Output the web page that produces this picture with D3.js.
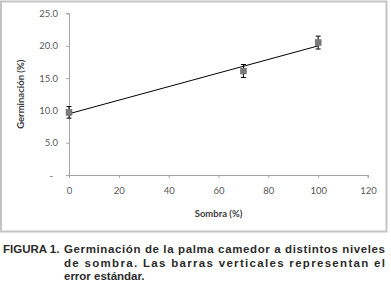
<!DOCTYPE html>
<html>
<head>
<meta charset="utf-8">
<script src="https://cdn.jsdelivr.net/npm/d3@7"></script>
<style>
  body { margin: 0; background: #fff; }
  svg { display: block; }
</style>
</head>
<body>
<div id="chart"></div>
<script>
// Data
var shade = [0, 70, 100];          // Sombra (%)
var germ = [9.7, 16.1, 20.5];      // Germinación (%)
var stdErr = [0.9, 1.0, 1.0];      // error estándar
var xTicks = [0, 20, 40, 60, 80, 100, 120];
var yTicks = [0, 5, 10, 15, 20, 25];
var yTickLabels = ["-", "5.0", "10.0", "15.0", "20.0", "25.0"];
var captionLines = [
  "Germinación de la palma camedor a distintos niveles",
  "de sombra. Las barras verticales representan el",
  "error estándar."
];

var width = 391, height = 286;

var svg = d3.select("#chart").append("svg")
  .attr("width", width)
  .attr("height", height);

// chart frame
svg.append("rect")
  .attr("x", 1).attr("y", 1.5)
  .attr("width", 385.5).attr("height", 230)
  .attr("fill", "#fff")
  .attr("stroke", "#c4c4c4")
  .attr("stroke-width", 2);

var x = d3.scaleLinear().domain([0, 120]).range([69, 368]);
var y = d3.scaleLinear().domain([0, 25]).range([175, 13.5]);

// y axis
var yAxis = d3.axisLeft(y)
  .tickValues(yTicks)
  .tickSize(3)
  .tickPadding(8)
  .tickFormat(function(d, i) { return yTickLabels[i]; });

var gy = svg.append("g")
  .attr("transform", "translate(" + x(0) + ",0)")
  .call(yAxis);
gy.select(".domain").attr("stroke", "#a6a6a6").attr("d", "M-3," + y(25) + "H0.5V" + (y(0) + 3));
gy.selectAll(".tick line").attr("stroke", "#a6a6a6");
gy.selectAll(".tick text")
  .attr("fill", "#595959")
  .style("font-family", "Lato, 'Open Sans', sans-serif")
  .style("font-size", "9.5px")
  .attr("dx", function(d) { return d === 0 ? -5 : 0; });

// x axis
var xAxis = d3.axisBottom(x)
  .tickValues(xTicks)
  .tickSize(3)
  .tickPadding(9);

var gx = svg.append("g")
  .attr("transform", "translate(0," + y(0) + ")")
  .call(xAxis);
gx.select(".domain").attr("stroke", "#a6a6a6").attr("d", "M" + x(0) + ",0.5H" + x(120) + "V3");
gx.selectAll(".tick line").attr("stroke", "#a6a6a6");
gx.selectAll(".tick text")
  .attr("fill", "#595959")
  .style("font-family", "Lato, 'Open Sans', sans-serif")
  .style("font-size", "9.5px");

// axis titles
svg.append("text")
  .attr("transform", "translate(24," + ((y(0) + y(25)) / 2) + ") rotate(-90)")
  .attr("text-anchor", "middle")
  .attr("fill", "#404040")
  .style("font-family", "Lato, 'Open Sans', sans-serif")
  .style("font-size", "9.5px")
  .style("font-weight", "bold")
  .text("Germinación (%)");

svg.append("text")
  .attr("x", (x(0) + x(120)) / 2)
  .attr("y", 217)
  .attr("text-anchor", "middle")
  .attr("fill", "#404040")
  .style("font-family", "Lato, 'Open Sans', sans-serif")
  .style("font-size", "9.5px")
  .style("font-weight", "bold")
  .text("Sombra (%)");

// linear trend line fitted to the points
var mx = d3.mean(shade), my = d3.mean(germ);
var sxy = d3.sum(shade, function(d, i) { return (d - mx) * (germ[i] - my); });
var sxx = d3.sum(shade, function(d) { return (d - mx) * (d - mx); });
var slope = sxy / sxx, icpt = my - slope * mx;
var xr = d3.extent(shade);

svg.append("line")
  .attr("x1", x(xr[0])).attr("y1", y(icpt + slope * xr[0]))
  .attr("x2", x(xr[1])).attr("y2", y(icpt + slope * xr[1]))
  .attr("stroke", "#000")
  .attr("stroke-width", 1);

// error bars
var pts = shade.map(function(d, i) { return { x: d, y: germ[i], e: stdErr[i] }; });

var eb = svg.append("g").selectAll("g")
  .data(pts).enter().append("g")
  .attr("stroke", "#000")
  .attr("stroke-width", 1);

eb.append("line")
  .attr("x1", function(d) { return x(d.x); })
  .attr("x2", function(d) { return x(d.x); })
  .attr("y1", function(d) { return y(d.y + d.e); })
  .attr("y2", function(d) { return y(d.y - d.e); });
eb.append("line")
  .attr("x1", function(d) { return x(d.x) - 2.5; })
  .attr("x2", function(d) { return x(d.x) + 2.5; })
  .attr("y1", function(d) { return y(d.y + d.e); })
  .attr("y2", function(d) { return y(d.y + d.e); });
eb.append("line")
  .attr("x1", function(d) { return x(d.x) - 2.5; })
  .attr("x2", function(d) { return x(d.x) + 2.5; })
  .attr("y1", function(d) { return y(d.y - d.e); })
  .attr("y2", function(d) { return y(d.y - d.e); });

// markers
svg.append("g").selectAll("rect")
  .data(pts).enter().append("rect")
  .attr("x", function(d) { return x(d.x) - 3; })
  .attr("y", function(d) { return y(d.y) - 3; })
  .attr("width", 6).attr("height", 6)
  .attr("fill", "#7a7a7a")
  .attr("stroke", "#6a6a6a")
  .attr("stroke-width", 0.5);

// caption
var cap = svg.append("g")
  .attr("fill", "#2b2b2b")
  .style("font-family", "Arial, 'Liberation Sans', sans-serif")
  .style("font-size", "11.5px")
  .style("font-weight", "bold");

cap.append("text")
  .attr("x", 3).attr("y", 253)
  .text("FIGURA 1.");

cap.selectAll("text.line")
  .data(captionLines).enter().append("text")
  .attr("class", "line")
  .attr("x", 64)
  .attr("y", function(d, i) { return 253 + i * 13.5; })
  .attr("textLength", function(d, i) { return i < 2 ? 321 : null; })
  .attr("lengthAdjust", "spacing")
  .text(function(d) { return d; });
</script>
</body>
</html>
